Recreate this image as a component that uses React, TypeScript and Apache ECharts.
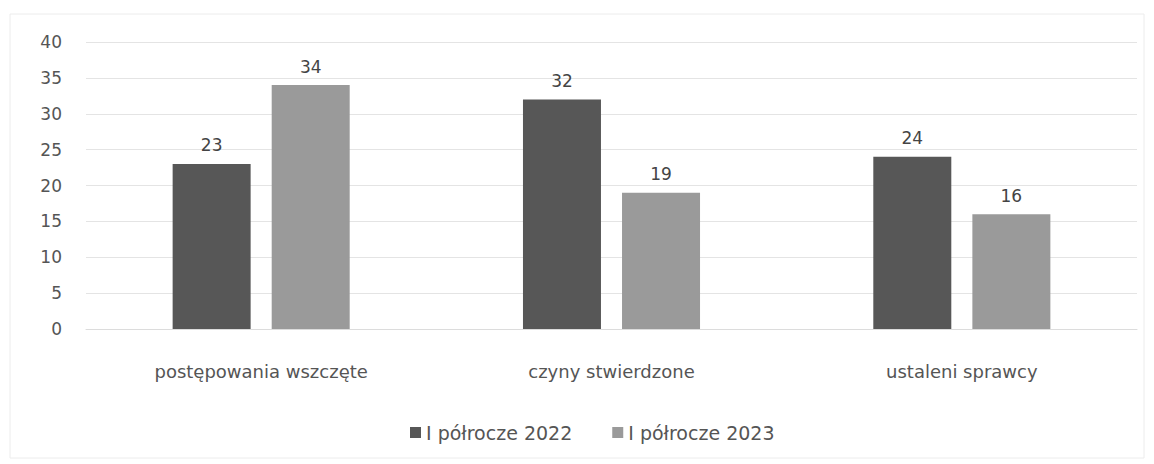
import React, { useEffect, useRef } from "react";
import * as echarts from "echarts";

const categories = ["postępowania wszczęte", "czyny stwierdzone", "ustaleni sprawcy"];
const seriesNames = ["I półrocze 2022", "I półrocze 2023"];
const values2022 = [23, 32, 24];
const values2023 = [34, 19, 16];
const colors = ["#575757", "#9a9a9a"];

const FONT = "DejaVu Sans";

export default function App() {
  const ref = useRef<HTMLDivElement>(null);
  useEffect(() => {
    if (!ref.current) return;
    const chart = echarts.init(ref.current, null, { renderer: "svg" });
    const seriesData = [values2022, values2023];
    chart.setOption({
      animation: false,
      backgroundColor: "#ffffff",
      textStyle: { fontFamily: FONT, color: "#444" },
      graphic: [
        {
          type: "rect",
          shape: { x: 10, y: 14, width: 1134, height: 444 },
          style: { fill: "none", stroke: "#ececec", lineWidth: 1 },
          silent: true,
        },
      ],
      grid: { left: 86, right: 17, top: 42, bottom: 135 },
      legend: {
        bottom: 17,
        left: 405,
        itemWidth: 11,
        itemHeight: 11,
        itemGap: 40,
        itemStyle: { borderWidth: 0 },
        icon: "rect",
        textStyle: { fontFamily: FONT, fontSize: 19, color: "#555" },
        data: seriesNames,
      },
      xAxis: {
        type: "category",
        data: categories,
        axisLine: { show: true, lineStyle: { color: "#dcdcdc" } },
        axisTick: { show: false },
        axisLabel: { margin: 33, fontFamily: FONT, fontSize: 18, color: "#555" },
      },
      yAxis: {
        type: "value",
        min: 0,
        max: 40,
        interval: 5,
        axisLine: { show: false },
        axisTick: { show: false },
        axisLabel: { margin: 24, fontFamily: FONT, fontSize: 17, color: "#555" },
        splitLine: { lineStyle: { color: "#e4e4e4" } },
      },
      series: seriesNames.map((name, i) => ({
        name,
        type: "bar",
        data: seriesData[i],
        barWidth: 78,
        barGap: "27%",
        itemStyle: { color: colors[i] },
        label: {
          show: true,
          position: "top",
          distance: 10,
          fontFamily: FONT,
          fontSize: 17,
          color: "#444",
        },
      })),
    });
    return () => chart.dispose();
  }, []);
  return (
    <div
      ref={ref}
      style={{ position: "absolute", left: 0, top: 0, width: 1154, height: 464 }}
    />
  );
}
